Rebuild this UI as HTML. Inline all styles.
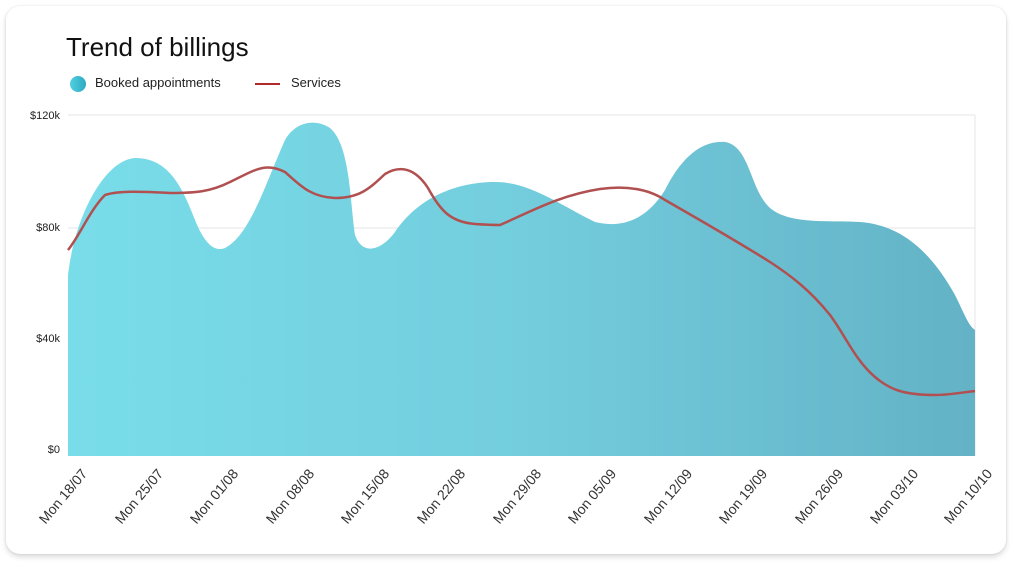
<!DOCTYPE html>
<html><head><style>
body{margin:0;width:1024px;height:572px;background:#fff;font-family:"Liberation Sans",sans-serif;overflow:hidden}
.card{position:absolute;left:6px;top:6px;width:1000px;height:548px;border-radius:14px;background:#fff;box-shadow:0 3px 6px rgba(0,0,0,0.15),0 0 2px rgba(0,0,0,0.1)}
</style></head><body>
<div class="card"></div>
<svg width="1024" height="572" style="position:absolute;left:0;top:0" font-family="Liberation Sans, sans-serif">
<defs>
<linearGradient id="g" x1="0" x2="1" y1="0" y2="0">
<stop offset="0" stop-color="#79dde9"/><stop offset="0.5" stop-color="#73cddd"/><stop offset="1" stop-color="#63b2c6"/>
</linearGradient>
<linearGradient id="lg" x1="0" x2="1"><stop offset="0" stop-color="#4fd0e0"/><stop offset="1" stop-color="#2ea9c2"/></linearGradient>
</defs>
<text x="66" y="56" font-size="26" fill="#111">Trend of billings</text>
<circle cx="78" cy="84" r="8" fill="url(#lg)"/>
<text x="95" y="87" font-size="13" fill="#222">Booked appointments</text>
<line x1="255" y1="84" x2="280" y2="84" stroke="#b02a2a" stroke-width="2"/>
<text x="291" y="87" font-size="13" fill="#222">Services</text>
<g stroke="#e6e6e6" stroke-width="1">
<line x1="68" y1="115" x2="975" y2="115"/><line x1="68" y1="228" x2="975" y2="228"/>
<line x1="68" y1="342" x2="975" y2="342"/><line x1="975" y1="115" x2="975" y2="456"/>
</g>
<g font-size="11" fill="#222" text-anchor="end">
<text x="60" y="119">$120k</text><text x="60" y="231">$80k</text><text x="60" y="342">$40k</text><text x="60" y="453">$0</text>
</g>
<path fill="url(#g)" d="M68,275 C75,215 105,160 135,158 C165,158 180,180 195,220 C205,245 215,252 225,248 C250,235 265,185 285,140 C295,122 315,118 330,128 C350,145 350,200 355,235 C362,255 380,252 395,232 C420,195 460,182 495,182 C530,182 560,205 595,222 C620,228 645,222 665,190 C680,160 700,140 725,142 C750,146 750,190 770,208 C790,225 830,220 860,222 C900,225 930,250 955,295 C965,315 968,325 975,330 L975,456 L68,456 Z"/>
<path fill="none" stroke="#b05050" stroke-width="2.5" d="M68,250 C80,235 90,210 105,195 C120,190 150,192 170,193 C195,193 210,192 230,182 C255,170 265,162 285,172 C300,185 310,197 335,198 C360,198 370,188 385,174 C400,165 415,168 428,188 C440,210 450,222 475,224 C490,225 495,225 500,225 C530,212 560,195 600,189 C630,185 650,190 665,200 C700,220 735,240 770,262 C790,275 810,290 830,315 C845,335 855,360 875,377 C890,390 905,395 935,395 C950,395 965,392 975,391"/>
<g font-size="14" fill="#333" text-anchor="end">
<text transform="translate(88,474) rotate(-50)">Mon 18/07</text>
<text transform="translate(164,474) rotate(-50)">Mon 25/07</text>
<text transform="translate(239,474) rotate(-50)">Mon 01/08</text>
<text transform="translate(315,474) rotate(-50)">Mon 08/08</text>
<text transform="translate(390,474) rotate(-50)">Mon 15/08</text>
<text transform="translate(466,474) rotate(-50)">Mon 22/08</text>
<text transform="translate(542,474) rotate(-50)">Mon 29/08</text>
<text transform="translate(617,474) rotate(-50)">Mon 05/09</text>
<text transform="translate(693,474) rotate(-50)">Mon 12/09</text>
<text transform="translate(768,474) rotate(-50)">Mon 19/09</text>
<text transform="translate(844,474) rotate(-50)">Mon 26/09</text>
<text transform="translate(919,474) rotate(-50)">Mon 03/10</text>
<text transform="translate(993,474) rotate(-50)">Mon 10/10</text>
</g>
</svg>
</body></html>
